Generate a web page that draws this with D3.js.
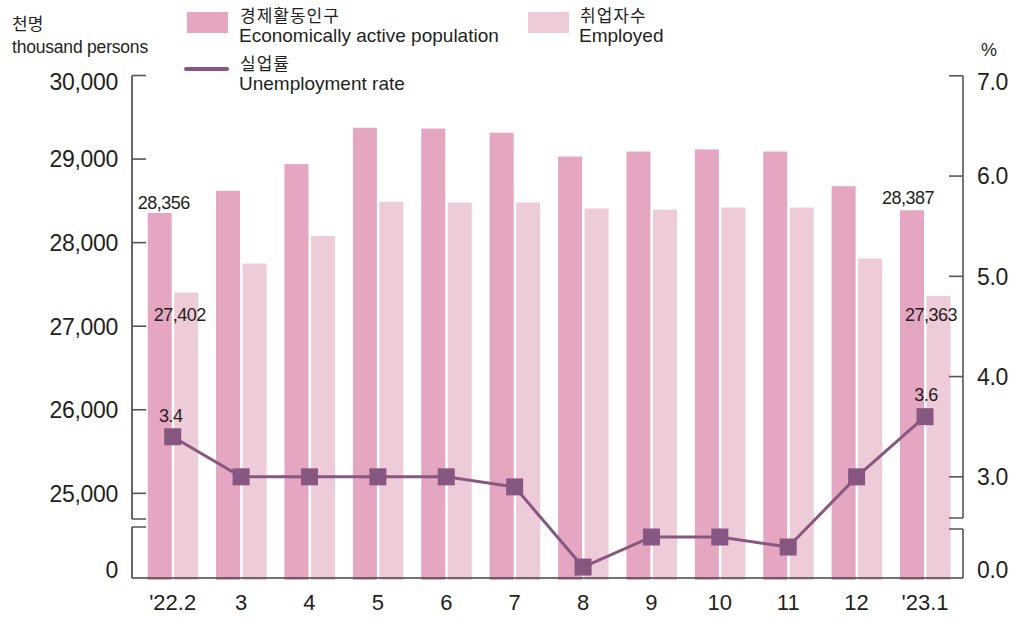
<!DOCTYPE html>
<html><head><meta charset="utf-8">
<script src="https://cdn.jsdelivr.net/npm/d3@7"></script>
<style>
html,body{margin:0;padding:0;background:#fff;}
svg{display:block;font-family:"Liberation Sans",Arial,"Noto Sans CJK KR",sans-serif;}
</style></head>
<body>
<svg id="c" width="1018" height="618"></svg>
<script>
const categories = ["'22.2","3","4","5","6","7","8","9","10","11","12","'23.1"];
const active =   [28356,28620,28940,29375,29365,29315,29030,29090,29115,29090,28675,28387];
const employed = [27402,27750,28080,28490,28480,28480,28410,28395,28420,28420,27810,27363];
const rate =     [3.4,3.0,3.0,3.0,3.0,2.9,2.1,2.4,2.4,2.3,3.0,3.6];
const leftTicks = [0,25000,26000,27000,28000,29000,30000];
const rightTicks = [0,3,4,5,6,7];
const leftLabels = ["0","25,000","26,000","27,000","28,000","29,000","30,000"];
const rightLabels = ["0.0","3.0","4.0","5.0","6.0","7.0"];

const C_ACT = "#e4a6c0", C_EMP = "#eecbd9", C_LINE = "#875782", C_AX = "#555";
const svg = d3.select("#c");

const x = d3.scaleBand().domain(categories).range([138.5, 959.2]).padding(0);
const yL = d3.scaleLinear().domain([0,24000,30000]).range([578,576.9,75.5]);
const yR = d3.scaleLinear().domain([0,2,7]).range([578,577.1,75.8]);
const cx = c => x(c) + x.bandwidth()/2;
const BW = 24;

// bars
const g = svg.append("g");
g.selectAll("rect.a").data(categories).join("rect")
  .attr("x", c => cx(c) - BW - 1).attr("width", BW)
  .attr("y", (c,i) => yL(active[i])).attr("height", (c,i) => yL(0) + 2 - yL(active[i]))
  .attr("fill", C_ACT);
g.selectAll("rect.e").data(categories).join("rect")
  .attr("x", c => cx(c) + 1.5).attr("width", BW)
  .attr("y", (c,i) => yL(employed[i])).attr("height", (c,i) => yL(0) + 2 - yL(employed[i]))
  .attr("fill", C_EMP);

// axes
const xl = 132, xr = 963, tk = 14;
const ax = svg.append("g").attr("stroke", C_AX).attr("stroke-width", 1.6).attr("fill","none");
ax.append("path").attr("d", `M${xl},${yL(30000)}V519M${xl},527V${yL(0)}`).attr("stroke-width",2).attr("stroke","#666");
ax.append("path").attr("d", `M${xl},519H${xl+tk}M${xl},527H${xl+tk}`);
ax.append("path").attr("d", `M${xr},${yR(7)}V518M${xr},529V${yR(0)}`);
ax.append("path").attr("d", `M${xr},518H${xr-tk}M${xr},529H${xr-tk}`);
leftTicks.forEach(v => { if (v>0) ax.append("line").attr("x1",xl).attr("x2",xl+tk).attr("y1",yL(v)).attr("y2",yL(v)); });
rightTicks.forEach(v => { if (v>0) ax.append("line").attr("x1",xr).attr("x2",xr-tk).attr("y1",yR(v)).attr("y2",yR(v)); });
ax.append("line").attr("x1",xl).attr("x2",xr).attr("y1",yL(0)).attr("y2",yL(0)).attr("stroke","#444");

// tick labels
const tl = svg.append("g").attr("fill","#231f20").attr("font-size","23px");
const dyFor = (v, max) => v===0 ? 0 : (v===max ? 14.5 : 8.3);
leftTicks.forEach((v,i) => {
  tl.append("text").attr("x",118).attr("y", yL(v) + dyFor(v,30000))
    .attr("text-anchor","end").attr("letter-spacing","-0.3").text(leftLabels[i]);
});
rightTicks.forEach((v,i) => {
  tl.append("text").attr("x",977).attr("y", yR(v) + dyFor(v,7))
    .attr("text-anchor","start").attr("letter-spacing","-0.3").text(rightLabels[i]);
});
categories.forEach(c => {
  tl.append("text").attr("x",cx(c)).attr("y",610).attr("text-anchor","middle").attr("font-size","22px").text(c);
});

// line
const line = d3.line().x((d,i) => cx(categories[i])).y(d => yR(d));
svg.append("path").datum(rate).attr("d", line).attr("fill","none").attr("stroke",C_LINE).attr("stroke-width",3);
const MS = 17;
svg.selectAll("rect.m").data(rate).join("rect")
  .attr("x",(d,i)=>cx(categories[i])-MS/2).attr("y",d=>yR(d)-MS/2)
  .attr("width",MS).attr("height",MS).attr("fill",C_LINE);

// value labels
const vl = svg.append("g").attr("fill","#231f20").attr("font-size","18px").attr("letter-spacing","-0.5").attr("text-anchor","middle");
const fmt = d3.format(",");
vl.append("text").attr("x", cx(categories[0]) - 9).attr("y", yL(active[0]) - 4).text(fmt(active[0]));
vl.append("text").attr("x", cx(categories[0]) + 7).attr("y", yL(employed[0]) + 28).text(fmt(employed[0]));
vl.append("text").attr("x", cx(categories[11]) - 17).attr("y", yL(active[11]) - 6).text(fmt(active[11]));
vl.append("text").attr("x", cx(categories[11]) + 6).attr("y", yL(employed[11]) + 25).text(fmt(employed[11]));
vl.append("text").attr("x", cx(categories[0]) - 2).attr("y", yR(rate[0]) - 15).text(rate[0].toFixed(1));
vl.append("text").attr("x", cx(categories[11]) + 1).attr("y", yR(rate[11]) - 16).text(rate[11].toFixed(1));

// unit labels
const ul = svg.append("g").attr("fill","#231f20");
ul.append("text").attr("x",12).attr("y",30).attr("font-size","17px").attr("font-family","'Noto Sans CJK KR',sans-serif").text("천명");
ul.append("text").attr("x",12).attr("y",53).attr("font-size","17.5px").attr("letter-spacing","-0.2").text("thousand persons");
ul.append("text").attr("x",989).attr("y",56).attr("font-size","18px").attr("text-anchor","middle").text("%");

// legend
const lg = svg.append("g").attr("fill","#231f20").attr("font-size","19px");
lg.append("rect").attr("x",187).attr("y",12).attr("width",41).attr("height",21).attr("fill",C_ACT);
lg.append("text").attr("x",240).attr("y",22).attr("font-size","17px").attr("font-family","'Noto Sans CJK KR',sans-serif").attr("letter-spacing","1").text("경제활동인구");
lg.append("text").attr("x",239).attr("y",42).text("Economically active population");
lg.append("rect").attr("x",528).attr("y",12).attr("width",41).attr("height",21).attr("fill",C_EMP);
lg.append("text").attr("x",580).attr("y",22).attr("font-size","17px").attr("font-family","'Noto Sans CJK KR',sans-serif").attr("letter-spacing","1").text("취업자수");
lg.append("text").attr("x",579).attr("y",42).text("Employed");
lg.append("line").attr("x1",186).attr("x2",227).attr("y1",69).attr("y2",69).attr("stroke",C_LINE).attr("stroke-width",4).attr("stroke-linecap","round");
lg.append("text").attr("x",240).attr("y",70).attr("font-size","17px").attr("font-family","'Noto Sans CJK KR',sans-serif").attr("letter-spacing","1").text("실업률");
lg.append("text").attr("x",239).attr("y",90).text("Unemployment rate");
</script>
</body></html>
